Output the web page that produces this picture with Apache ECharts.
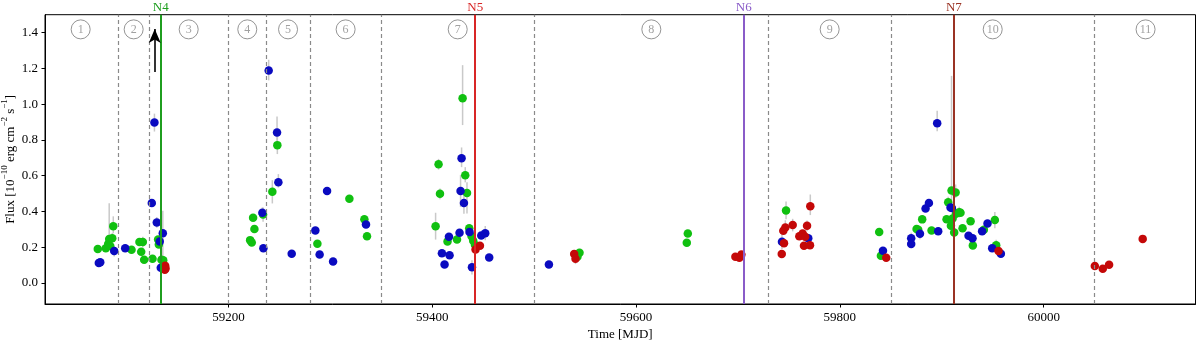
<!DOCTYPE html>
<html>
<head>
<meta charset="utf-8">
<script src="https://cdn.jsdelivr.net/npm/echarts@6/dist/echarts.min.js"></script>
<style>
  html, body { margin: 0; padding: 0; background: #fff; }
  #chart { width: 1200px; height: 343px; }
</style>
</head>
<body>
<div id="chart"></div>
<script>
// [MJD, flux, errLow, errHigh]
const greenPoints = [
  [59071.8, 0.190, 0, 0], [59079.7, 0.194, 0, 0], [59082.0, 0.218, 0.03, 0.03],
  [59083.0, 0.246, 0.06, 0.20], [59086.0, 0.250, 0.03, 0.03], [59084.0, 0.207, 0, 0],
  [59087.0, 0.318, 0.04, 0.055], [59104.9, 0.186, 0, 0], [59112.7, 0.229, 0, 0],
  [59116.0, 0.229, 0.03, 0.03], [59114.4, 0.175, 0, 0], [59117.3, 0.130, 0, 0],
  [59125.5, 0.136, 0, 0], [59131.0, 0.244, 0.02, 0.02], [59131.7, 0.216, 0, 0],
  [59134.3, 0.130, 0, 0], [59136.0, 0.127, 0, 0],
  [59248.0, 0.771, 0.05, 0.05], [59243.1, 0.510, 0.065, 0.065], [59234.0, 0.383, 0.04, 0.04],
  [59224.2, 0.365, 0.02, 0.02], [59225.5, 0.302, 0, 0], [59221.3, 0.240, 0, 0],
  [59222.9, 0.227, 0, 0], [59318.7, 0.471, 0.02, 0.02], [59333.4, 0.357, 0, 0],
  [59336.0, 0.262, 0, 0], [59287.3, 0.220, 0, 0],
  [59429.8, 1.033, 0.15, 0.185], [59406.2, 0.664, 0.03, 0.03], [59432.4, 0.603, 0.04, 0.045],
  [59407.6, 0.499, 0.03, 0.03], [59434.1, 0.504, 0.115, 0.06], [59403.3, 0.318, 0.075, 0.075],
  [59436.3, 0.307, 0, 0], [59415.0, 0.233, 0, 0], [59424.3, 0.244, 0, 0],
  [59438.6, 0.262, 0, 0], [59440.2, 0.236, 0, 0], [59441.9, 0.214, 0.05, 0.05],
  [59544.5, 0.169, 0, 0], [59542.5, 0.147, 0, 0], [59650.8, 0.277, 0, 0], [59649.8, 0.225, 0, 0],
  [59747.2, 0.406, 0.05, 0.05], [59838.6, 0.286, 0.02, 0.02], [59840.3, 0.153, 0, 0],
  [59875.3, 0.302, 0, 0], [59876.9, 0.298, 0, 0], [59880.8, 0.356, 0, 0],
  [59890.0, 0.294, 0.02, 0.02], [59909.6, 0.518, 0.07, 0.64], [59913.6, 0.506, 0.03, 0.045],
  [59906.3, 0.452, 0.03, 0.03], [59904.7, 0.357, 0, 0], [59909.0, 0.320, 0, 0],
  [59912.2, 0.283, 0, 0], [59913.9, 0.387, 0.03, 0.03], [59917.1, 0.396, 0.03, 0.03],
  [59918.4, 0.393, 0, 0], [59910.6, 0.361, 0, 0], [59920.4, 0.307, 0, 0],
  [59928.3, 0.346, 0, 0], [59930.5, 0.210, 0, 0], [59941.3, 0.298, 0, 0],
  [59952.1, 0.352, 0.045, 0.045], [59953.4, 0.212, 0.03, 0.03]
];
const bluePoints = [
  [59072.8, 0.112, 0, 0], [59074.2, 0.117, 0, 0], [59087.9, 0.179, 0.03, 0.03],
  [59098.7, 0.195, 0, 0], [59127.4, 0.897, 0.05, 0.05], [59124.8, 0.448, 0, 0],
  [59129.7, 0.339, 0.03, 0.03], [59135.6, 0.279, 0.13, 0.125], [59132.6, 0.233, 0, 0],
  [59133.6, 0.085, 0, 0],
  [59239.5, 1.188, 0.055, 0.06], [59247.7, 0.841, 0.06, 0.09], [59249.0, 0.564, 0.03, 0.045],
  [59233.3, 0.393, 0.03, 0.03], [59234.3, 0.195, 0, 0], [59262.1, 0.164, 0, 0],
  [59296.8, 0.515, 0, 0], [59285.3, 0.294, 0, 0], [59289.5, 0.160, 0, 0],
  [59302.7, 0.121, 0, 0], [59335.0, 0.328, 0, 0],
  [59428.8, 0.698, 0.05, 0.06], [59427.8, 0.515, 0.09, 0.09], [59431.1, 0.447, 0.06, 0.06],
  [59416.4, 0.259, 0, 0], [59426.8, 0.281, 0, 0], [59436.6, 0.285, 0, 0],
  [59409.5, 0.166, 0, 0], [59417.0, 0.156, 0, 0], [59412.1, 0.104, 0, 0],
  [59439.0, 0.088, 0.04, 0.04], [59448.1, 0.266, 0, 0], [59452.0, 0.279, 0.04, 0.04],
  [59455.9, 0.143, 0, 0],
  [59514.5, 0.104, 0, 0],
  [59743.2, 0.231, 0.04, 0.04], [59769.0, 0.250, 0, 0], [59842.3, 0.180, 0.02, 0.02],
  [59870.0, 0.251, 0.03, 0.03], [59870.0, 0.218, 0, 0], [59878.6, 0.275, 0.03, 0.03],
  [59884.1, 0.417, 0, 0], [59887.4, 0.447, 0, 0], [59896.5, 0.289, 0, 0],
  [59895.5, 0.893, 0.045, 0.07], [59908.6, 0.423, 0, 0], [59909.9, 0.419, 0, 0],
  [59926.3, 0.264, 0, 0], [59930.2, 0.251, 0, 0], [59939.6, 0.289, 0, 0],
  [59944.9, 0.333, 0, 0], [59949.5, 0.194, 0, 0], [59958.0, 0.164, 0, 0]
];
const redPoints = [
  [59137.9, 0.097, 0, 0], [59138.3, 0.082, 0, 0], [59137.6, 0.075, 0, 0],
  [59442.5, 0.188, 0, 0], [59446.8, 0.208, 0, 0],
  [59539.3, 0.162, 0, 0], [59540.6, 0.136, 0.03, 0.03],
  [59697.5, 0.147, 0, 0], [59701.4, 0.141, 0, 0], [59703.4, 0.160, 0, 0],
  [59771.0, 0.430, 0.05, 0.065], [59746.5, 0.311, 0.04, 0.04], [59744.5, 0.292, 0, 0],
  [59753.7, 0.324, 0.035, 0.035], [59767.8, 0.320, 0.03, 0.03], [59760.2, 0.262, 0.02, 0.02],
  [59763.5, 0.277, 0, 0], [59766.0, 0.259, 0, 0], [59745.2, 0.223, 0, 0],
  [59764.8, 0.208, 0, 0], [59770.7, 0.212, 0, 0], [59743.0, 0.162, 0, 0],
  [59845.5, 0.141, 0, 0],
  [59955.7, 0.179, 0, 0],
  [60050.2, 0.095, 0, 0], [60058.0, 0.080, 0, 0], [60064.2, 0.102, 0, 0], [60097.2, 0.247, 0, 0]
];
const periodBoundaries = [59092, 59122, 59200, 59237, 59280, 59350, 59500, 59730, 59850, 60050];
const periodLabels = ['1','2','3','4','5','6','7','8','9','10','11'];
const periodCenters = [59055, 59107, 59161, 59218.5, 59258.5, 59315, 59425, 59615, 59790, 59950, 60100];
const novaNames = ['N4', 'N5', 'N6', 'N7'];
const novaDates = [59133.6, 59442.2, 59705.7, 59911.9];
const novaColors = ['#1f9e1f', '#d82626', '#8a5cc8', '#9a3324'];
const xTicks = [59200, 59400, 59600, 59800, 60000];
const yTicks = [0.0, 0.2, 0.4, 0.6, 0.8, 1.0, 1.2, 1.4];
const arrowFrom = [59127.7, 1.18];
const arrowTo = [59127.7, 1.42];
const labelRowY = 1.418;

const FONT = 'Liberation Serif';

function errSeries(points) {
  return {
    type: 'custom',
    data: points,
    z: 2,
    silent: true,
    renderItem: function (params, api) {
      const x = api.value(0), y = api.value(1), lo = api.value(2), hi = api.value(3);
      if (!lo && !hi) return null;
      const p1 = api.coord([x, y - lo]);
      const p2 = api.coord([x, y + hi]);
      return {
        type: 'line',
        shape: { x1: p1[0], y1: p1[1], x2: p2[0], y2: p2[1] },
        style: { stroke: '#c9c9c9', lineWidth: 1.5 }
      };
    }
  };
}
function pointSeries(points, color) {
  return {
    type: 'scatter',
    data: points,
    encode: { x: 0, y: 1 },
    symbol: 'circle',
    symbolSize: 8.5,
    itemStyle: { color: color, opacity: 1 },
    z: 3,
    silent: true
  };
}

const markLines = [];
periodBoundaries.forEach(v => markLines.push({
  xAxis: v,
  lineStyle: { color: '#8a8a8a', type: [4, 3], width: 1.2 },
  label: { show: false }
}));
novaNames.forEach((n, i) => markLines.push({
  name: n,
  xAxis: novaDates[i],
  lineStyle: { color: novaColors[i], type: 'solid', width: 2 },
  label: { show: true, position: 'end', formatter: n, color: novaColors[i], fontFamily: FONT, fontSize: 13, distance: 1 }
}));

const chart = echarts.init(document.getElementById('chart'), null, { renderer: 'canvas' });
chart.setOption({
  animation: false,
  backgroundColor: '#fff',
  grid: { left: 45, right: 4.5, top: 14.7, bottom: 39, containLabel: false, outerBoundsMode: 'none', show: true, borderColor: '#000', borderWidth: 1, backgroundColor: 'transparent' },
  xAxis: {
    type: 'value', min: 59020, max: 60149,
    name: 'Time [MJD]', nameLocation: 'middle', nameGap: 24, nameMoveOverlap: false,
    nameTextStyle: { fontFamily: FONT, fontSize: 13, color: '#000' },
    axisLine: { show: true, onZero: false, lineStyle: { color: '#000', width: 1 } },
    axisTick: { show: true, length: 3.5, customValues: xTicks, lineStyle: { color: '#000' } },
    axisLabel: { customValues: xTicks, margin: 7, fontFamily: FONT, fontSize: 13, color: '#000', formatter: v => String(v) },
    splitLine: { show: false }
  },
  yAxis: {
    type: 'value', min: -0.117, max: 1.5,
    name: '{n|Flux [10}{s|−10}{n| erg cm}{s|−2}{n| s}{s|−1}{n|]}',
    nameLocation: 'middle', nameGap: 28, nameRotate: 90, nameMoveOverlap: false,
    nameTextStyle: {
      rich: {
        n: { fontFamily: FONT, fontSize: 13, color: '#000', lineHeight: 17, verticalAlign: 'bottom' },
        s: { fontFamily: FONT, fontSize: 9, color: '#000', lineHeight: 17, verticalAlign: 'top' }
      }
    },
    axisLine: { show: true, onZero: false, lineStyle: { color: '#000', width: 1 } },
    axisTick: { show: true, length: 3.5, customValues: yTicks, lineStyle: { color: '#000' } },
    axisLabel: { customValues: yTicks, margin: 7, fontFamily: FONT, fontSize: 13, color: '#000', formatter: v => v.toFixed(1) },
    splitLine: { show: false }
  },
  series: [
    {
      type: 'scatter',
      data: periodCenters.map((c, i) => [c, labelRowY, periodLabels[i]]),
      symbol: 'circle', symbolSize: 19,
      itemStyle: { color: 'rgba(255,255,255,0)', borderColor: '#7a7a7a', borderWidth: 1 },
      label: { show: true, position: 'inside', formatter: p => p.data[2], color: '#8a8a8a', fontFamily: FONT, fontSize: 12 },
      z: 1, silent: true,
      markLine: { symbol: ['none', 'none'], silent: true, animation: false, data: markLines, z: 4 }
    },
    errSeries(greenPoints), errSeries(bluePoints), errSeries(redPoints),
    pointSeries(greenPoints, '#10c010'),
    pointSeries(bluePoints, '#0a0ac0'),
    pointSeries(redPoints, '#c40808'),
    {
      type: 'line', data: [], silent: true,
      markLine: {
        silent: true, animation: false,
        symbol: ['none', 'arrow'], symbolSize: [9, 14],
        lineStyle: { color: '#000', type: 'solid', width: 1.6 },
        label: { show: false },
        data: [[{ coord: arrowFrom }, { coord: arrowTo }]]
      }
    }
  ]
});
</script>
</body>
</html>
